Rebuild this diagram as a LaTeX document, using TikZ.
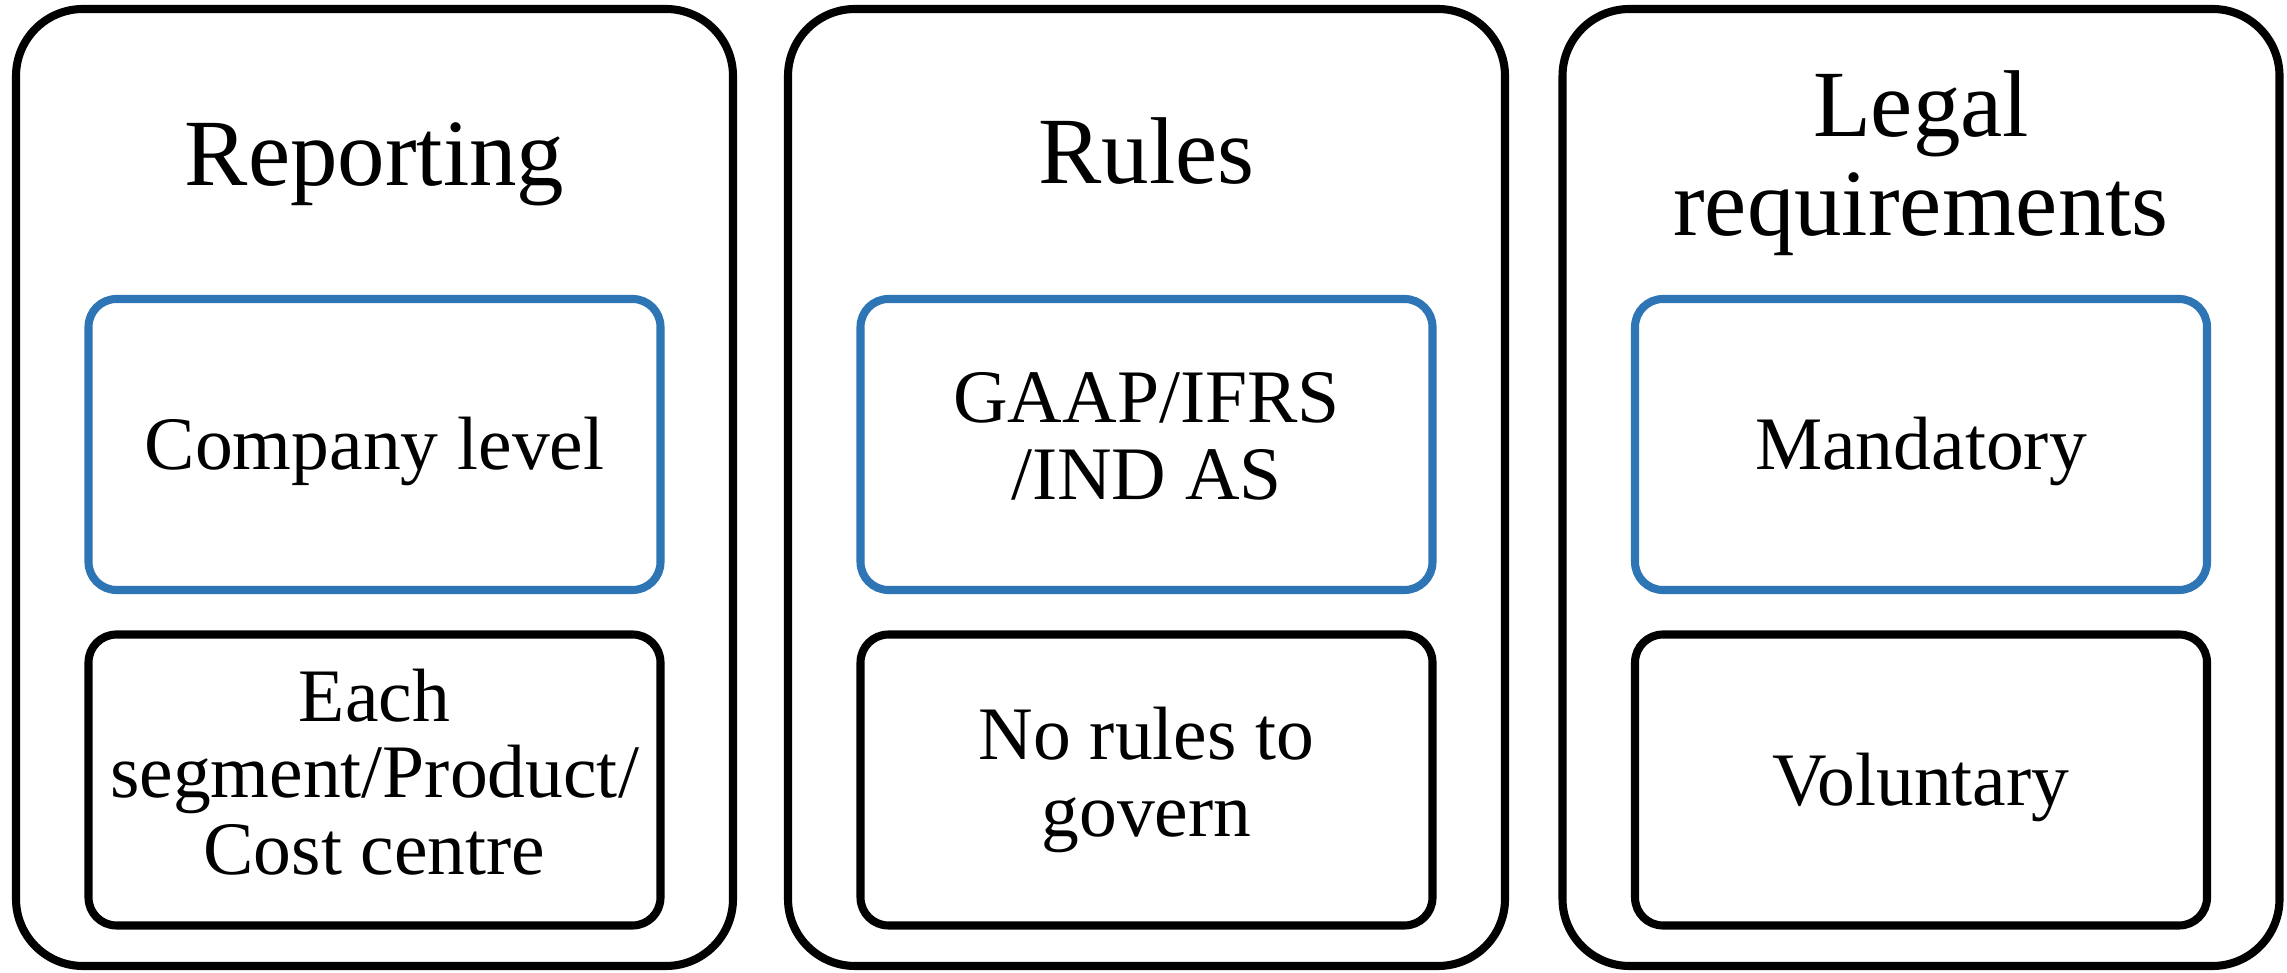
\documentclass[tikz,border=0pt]{standalone}
\usepackage{fontspec}
\setmainfont{Liberation Serif}
\usepackage{tikz}
\definecolor{boxblue}{RGB}{46,117,182}
\tikzset{
   panel/.style={draw=black, line width=2.3pt, rounded corners=6.7mm,
                 minimum width=71.7mm, minimum height=95.7mm},
   heading/.style={font=\fontsize{27}{28}\selectfont, align=center, inner sep=0pt},
   item/.style={line width=2.3pt, rounded corners=2.8mm, minimum width=57.2mm, minimum height=29.1mm,
                inner sep=1pt, align=center, font=\fontsize{21.5}{21.8}\selectfont,
                execute at begin node={\rule{0pt}{0.89em}},
                execute at end node={\rule[-0.22em]{0pt}{0.22em}}},
   topitem/.style={item, draw=boxblue},
   botitem/.style={item, draw=black}
}

\begin{document}
\begin{tikzpicture}[x=0.1mm, y=-0.1mm]
\useasboundingbox (0,0) rectangle (2287,973);
\node[panel] (rep) at (374.5,487.5) {};
\node[panel] (rul) at (1146.5,487.5) {};
\node[panel] (leg) at (1921,487.5) {};
\node[heading, anchor=base] (rep-title) at (374.5,186) {Reporting};
\node[heading, anchor=base] (rul-title) at (1146.5,184) {Rules};
\node[heading] (leg-title) at (1921,163) {Legal\\requirements};
\node[topitem] (rep-top) at (374.5,444.5) {Company level};
\node[topitem] (rul-top) at (1146.5,444.5) {GAAP/IFRS\\/IND AS};
\node[topitem] (leg-top) at (1921,444.5) {Mandatory};
\node[botitem] (rep-bot) at (374.5,780) {Each\\segment/Product/\\Cost centre};
\node[botitem] (rul-bot) at (1146.5,780) {No rules to\\govern};
\node[botitem] (leg-bot) at (1921,780) {Voluntary};
\end{tikzpicture}
\end{document}
